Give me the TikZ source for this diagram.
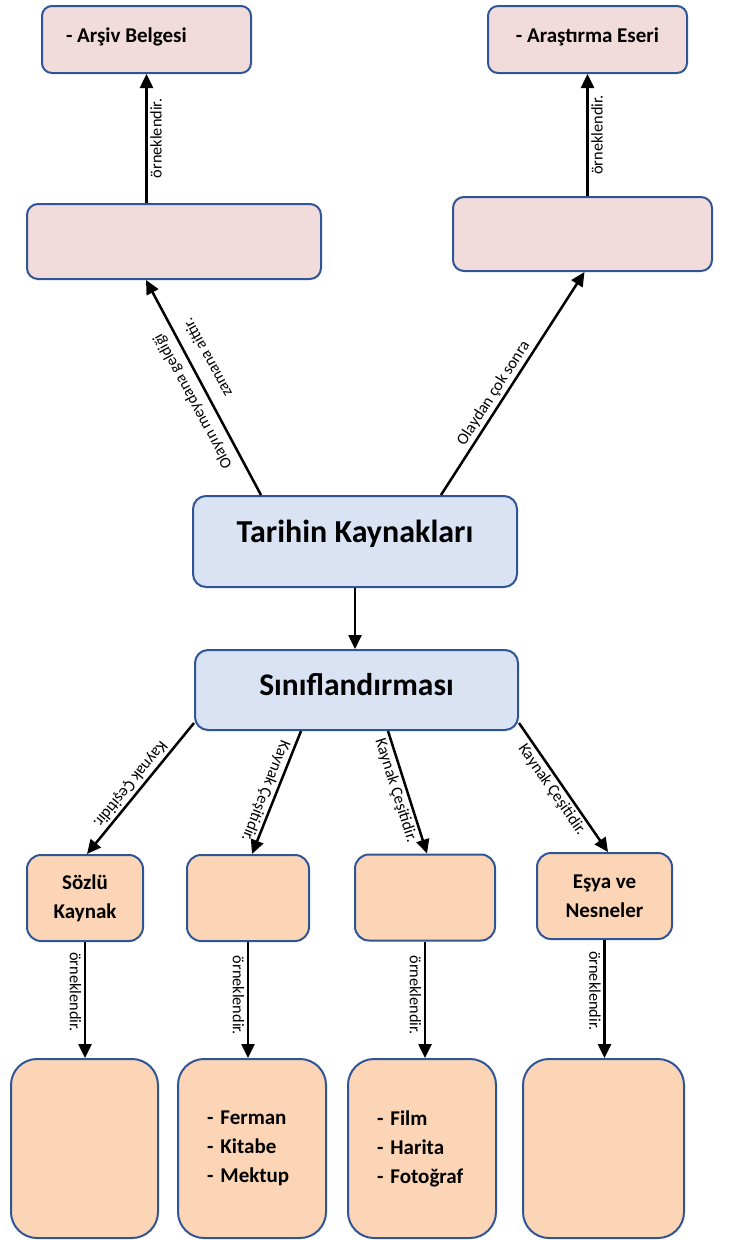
\documentclass[tikz,border=0pt]{standalone}
\usepackage{fontspec}
\setmainfont{Carlito}
\usetikzlibrary{arrows.meta}
\definecolor{bordc}{HTML}{2F5597}
\definecolor{pinkf}{HTML}{F2DCDB}
\definecolor{bluef}{HTML}{DAE3F3}
\definecolor{peachf}{HTML}{FBD5B5}
\begin{document}
\begin{tikzpicture}[x=1pt,y=-1pt,
  basebox/.style={draw=bordc, line width=2pt, inner sep=0pt, align=center,
    font=\fontsize{21}{29}\selectfont\bfseries},
  pinkbox/.style={basebox, fill=pinkf, rounded corners=10pt},
  bluebox/.style={basebox, fill=bluef, rounded corners=13pt},
  rowbox/.style={basebox, fill=peachf, rounded corners=14pt, minimum height=86pt},
  tallbox/.style={basebox, fill=peachf, rounded corners=26pt, minimum height=179pt},
  listbox/.style={tallbox, align=left, text width=90pt, inner xsep=29pt, inner ysep=0pt},
  conn/.style={line width=2.5pt, -{Triangle[length=14pt,width=13pt]}},
  lbl/.style={font=\fontsize{16.3}{19}\selectfont, sloped, allow upside down, inner sep=2.5pt}
]
\useasboundingbox (0,0) rectangle (739,1240);

% top pink boxes
\node[pinkbox, minimum width=209pt, minimum height=67pt] (arsiv) at (146.5,39.5)
      {\raisebox{-3pt}[0pt][0pt]{\makebox[161pt][l]{- Arşiv Belgesi}}};
\node[pinkbox, minimum width=199pt, minimum height=67pt] (arast) at (587.5,39.5)
      {\raisebox{-3pt}[0pt][0pt]{- Araştırma Eseri}};
\node[pinkbox, rounded corners=11pt, minimum width=294pt, minimum height=75pt] (olay) at (174,241.5) {};
\node[pinkbox, rounded corners=11pt, minimum width=259pt, minimum height=74pt] (rmid) at (582.5,234) {};

% blue boxes
\node[bluebox, minimum width=324pt, minimum height=91pt, font=\fontsize{32}{36}\selectfont\bfseries]
      (tarihin) at (355,541.5) {\raisebox{-1pt}[0pt][0pt]{Tarihin Kaynakları}};
\node[bluebox, minimum width=323pt, minimum height=80pt, font=\fontsize{31.5}{36}\selectfont\bfseries]
      (sinif) at (356.5,690) {\raisebox{-5pt}[0pt][0pt]{Sınıflandırması}};

% row of peach boxes
\node[rowbox, minimum width=116pt] (b1) at (85,898) {Sözlü\\Kaynak};
\node[rowbox, minimum width=122pt] (b2) at (248,898) {};
\node[rowbox, minimum width=140pt] (b3) at (425,897.5) {};
\node[rowbox, minimum width=135pt] (b4) at (604.5,896) {Eşya ve\\Nesneler};

% bottom tall boxes
\node[tallbox, minimum width=147pt] (c1) at (84.5,1148.5) {};
\node[listbox] (c2) at (252,1148.5) {- Ferman\\- Kitabe\\- Mektup};
\node[listbox] (c3) at (422,1148.5) {- Film\\- Harita\\- Fotoğraf};
\node[tallbox, minimum width=161pt] (c4) at (603.5,1148.5) {};

% connectors top
\draw[conn] (olay.north -| arsiv.south) -- node[lbl, below]{örneklendir.} (arsiv.south);
\draw[conn] (rmid.north -| arast.south) -- node[lbl, below]{örneklendir.} (arast.south);
\draw[conn] ([xshift=69pt]tarihin.north west) --
   node[lbl, pos=0.47, align=right, font=\fontsize{16}{34}\selectfont]{Olayın meydana geldiği\\zamana aittir.}
   ([xshift=120pt]olay.south west);
\draw[conn] ([xshift=-77pt]tarihin.north east) --
   node[lbl, above, pos=0.43]{Olaydan çok sonra} ([xshift=2pt]rmid.south);

% middle
\draw[conn] (tarihin.south) -- (tarihin.south |- sinif.north);

% classification arrows
\draw[conn] ([yshift=8pt]sinif.south west) -- node[lbl, below, pos=0.52]{Kaynak Çeşitidir.} ([xshift=2pt]b1.north);
\draw[conn] ([xshift=107pt]sinif.south west) -- node[lbl, below, pos=0.52]{Kaynak Çeşitidir.} ([xshift=4pt]b2.north);
\draw[conn] ([xshift=194pt]sinif.south west) -- node[lbl, below, pos=0.46]{Kaynak Çeşitidir.} ([xshift=2pt]b3.north);
\draw[conn] ([yshift=8pt]sinif.south east) -- node[lbl, below, pos=0.47]{Kaynak Çeşitidir.} ([xshift=3.5pt]b4.north);

% bottom verticals
\draw[conn] (b1.south) -- node[lbl, below, pos=0.43]{örneklendir.} (b1.south |- c1.north);
\draw[conn] (b2.south) -- node[lbl, below, pos=0.46]{örneklendir.} (b2.south |- c2.north);
\draw[conn] (b3.south) -- node[lbl, below, pos=0.46]{örneklendir.} (b3.south |- c3.north);
\draw[conn] (b4.south) -- node[lbl, below, pos=0.43]{örneklendir.} (b4.south |- c4.north);
\end{tikzpicture}
\end{document}
